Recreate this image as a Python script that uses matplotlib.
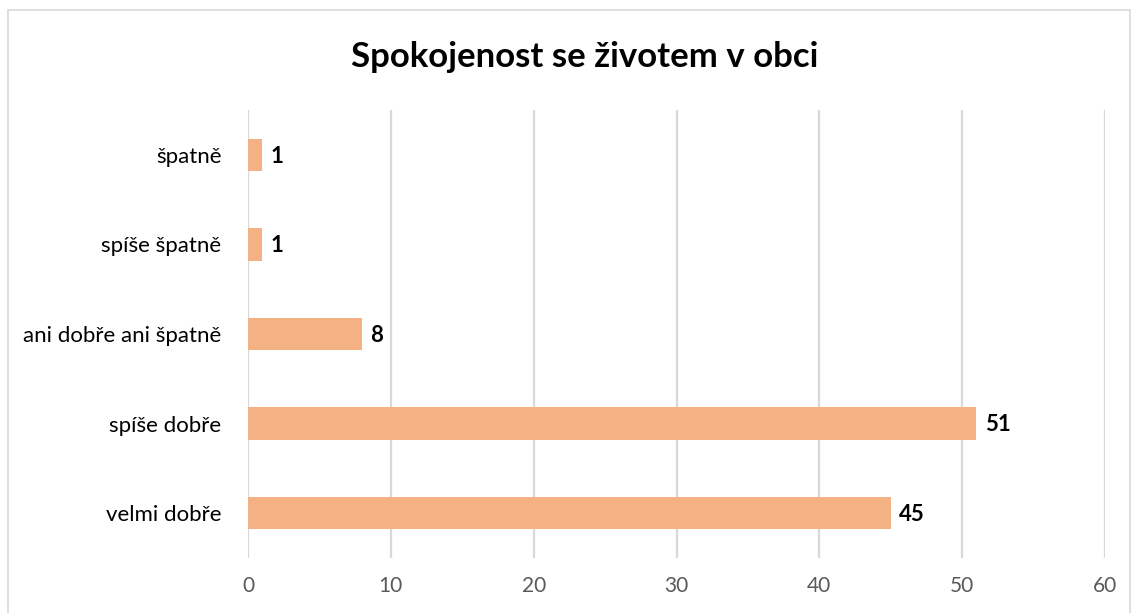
import matplotlib.pyplot as plt
from matplotlib.patches import Rectangle

categories = ["velmi dobře", "spíše dobře", "ani dobře ani špatně", "spíše špatně", "špatně"]
values = [45, 51, 8, 1, 1]
xticks = [0, 10, 20, 30, 40, 50, 60]

plt.rcParams['font.family'] = ['Lato', 'DejaVu Sans']

fig = plt.figure(figsize=(11.35, 6.13), dpi=100)
ax = fig.add_axes([248 / 1135, 1 - 558 / 613, (1105 - 248) / 1135, (558 - 110) / 613])

ypos = list(range(len(categories)))
bars = ax.barh(ypos, values, height=0.36, color='#F4B183', zorder=3)

for y, v in zip(ypos, values):
    ax.annotate(str(v), (v, y), xytext=(6, -1), textcoords='offset points',
                va='center', ha='left', fontsize=16, fontweight='bold', color='black')

ax.set_xlim(0, 60)
ax.set_ylim(-0.5, len(categories) - 0.5)
ax.set_xticks(xticks)
ax.set_yticks(ypos)
ax.set_yticklabels(categories)
ax.grid(axis='x', color='#D9D9D9', linewidth=1.6, zorder=0)
ax.tick_params(axis='x', length=0, pad=13, labelsize=15, labelcolor='#595959')
ax.tick_params(axis='y', length=0, pad=19, labelsize=16, labelcolor='black')
for s in ax.spines.values():
    s.set_visible(False)

fig.text(585 / 1135, 1 - 57 / 613, "Spokojenost se životem v obci", ha='center', va='center',
         fontsize=25, fontweight='bold', color='black')

fig.patches.append(Rectangle((8 / 1135, -0.01), (1130 - 8) / 1135, 1 - 10 / 613 + 0.01,
                             transform=fig.transFigure, fill=False, edgecolor='#D9D9D9', linewidth=1.2))

plt.savefig("out.png", dpi=100)
